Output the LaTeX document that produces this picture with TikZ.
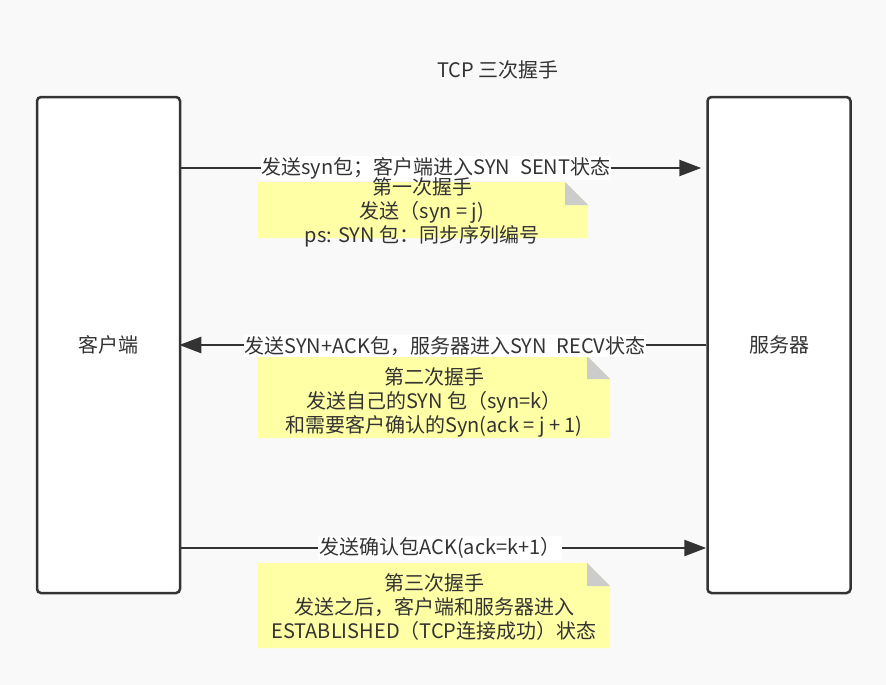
\documentclass[tikz,border=0pt]{standalone}
\usepackage{fontspec}
\setmainfont{Noto Sans CJK SC}
\usetikzlibrary{arrows.meta}
\definecolor{bg}{HTML}{F9F9F9}
\definecolor{ink}{HTML}{333333}
\definecolor{notey}{HTML}{FFFFA6}
\definecolor{fold}{HTML}{CCCCCC}
\begin{document}
\begin{tikzpicture}[x=1pt,y=-1pt, font=\fontsize{20}{24}\selectfont, text=ink,
  box/.style={draw=ink, line width=2.5pt, fill=white, rounded corners=4pt,
    minimum width=143pt, minimum height=496pt, inner sep=0pt},
  msg/.style={draw=ink, line width=2.5pt, -{Triangle[length=22pt,width=16pt]}},
  lbl/.style={fill=white, inner sep=1pt},
  notetext/.style={align=center, inner sep=0pt},
  notebg/.style={fill=notey},
  notefold/.style={fill=fold}]
\fill[bg] (0,0) rectangle (886,685);
\useasboundingbox (0,0) rectangle (886,685);

\node (title) at (498,70) {TCP 三次握手};

\node[box] (client) at (108.5,345) {客户端};
\node[box] (server) at (779,345) {服务器};

\coordinate (y1) at (0,168);
\coordinate (y2) at (0,345);
\coordinate (y3) at (0,548);

% note 1
\fill[notebg] (258,182) -- (565,182) -- (588,205) -- (588,238) -- (258,238) -- cycle;
\fill[notefold] (565,182) -- (565,205) -- (588,205) -- cycle;
% note 2
\fill[notebg] (258,356) -- (587,356) -- (610,379) -- (610,438) -- (258,438) -- cycle;
\fill[notefold] (587,356) -- (587,379) -- (610,379) -- cycle;
% note 3
\fill[notebg] (258,563) -- (587,563) -- (610,586) -- (610,648) -- (258,648) -- cycle;
\fill[notefold] (587,563) -- (587,586) -- (610,586) -- cycle;

\draw[msg] (client.east |- y1) -- ([xshift=-5pt]server.west |- y1);
\draw[msg] (server.west |- y2) -- ([xshift=-2pt]client.east |- y2);
\draw[msg] (client.east |- y3) -- (server.west |- y3);

\node[lbl] (l1) at (436,168) {发送syn包；客户端进入SYN\hspace{0.5em}SENT状态};
\node[lbl] (l2) at (445,346) {发送SYN+ACK包，服务器进入SYN\hspace{0.5em}RECV状态};
\node[lbl] (l3) at (440,548) {发送确认包ACK(ack=k+1）};

\node[notetext] (n1) at (422,212) {第一次握手\\发送（syn = j)\\ps: SYN 包：同步序列编号};
\node[notetext] (n2) at (434,402) {第二次握手\\发送自己的SYN 包（syn=k）\\和需要客户确认的Syn(ack = j + 1)};
\node[notetext] (n3) at (434,607) {第三次握手\\发送之后，客户端和服务器进入\\ESTABLISHED（TCP连接成功）状态};
\end{tikzpicture}
\end{document}
